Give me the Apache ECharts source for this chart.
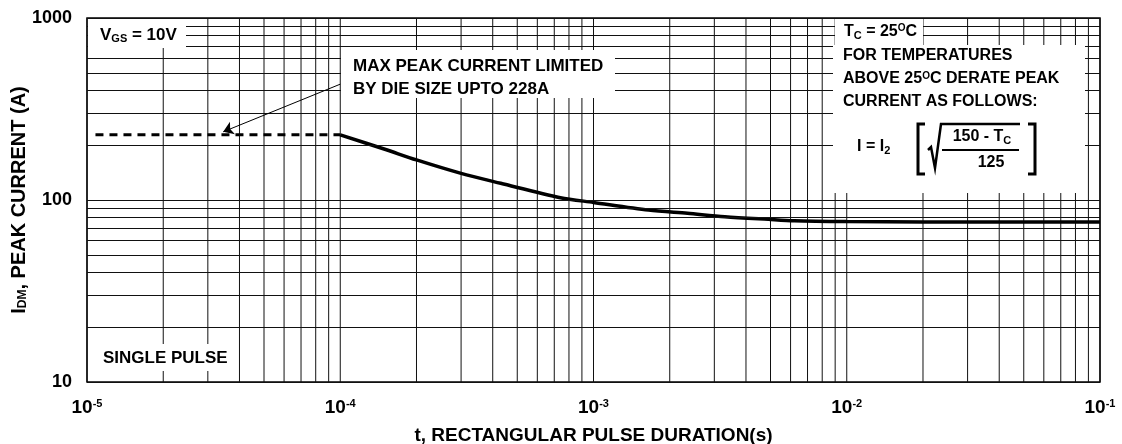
<!DOCTYPE html>
<html>
  <head>
    <meta http-equiv="Content-Type" content="text/html; charset=utf-8" />
    <title>Peak current</title>
    <script src="https://cdn.jsdelivr.net/npm/echarts@6/dist/echarts.min.js"></script>
    <style>
      body { margin: 0; background: #fff; }
      #chart { width: 1122px; height: 444px; }
    </style>
  </head>
  <body>
    <div id="chart"></div>
    <script>
      // pulse duration (s) and peak current (A)
      var pulseTime = [1e-4, 1.5e-4, 2e-4, 3e-4, 4.3e-4, 7.4e-4, 1e-3, 1.65e-3, 2.35e-3, 3.3e-3, 4.9e-3, 6.2e-3, 1e-2, 2e-2, 5e-2, 1e-1];
      var peakCurrent = [228, 190, 166, 140, 123.5, 103, 97, 88, 84.5, 81, 78.3, 76.9, 76.1, 75.7, 75.6, 75.6];
      // die size limit (dashed)
      var limitTime = [1.08e-5, 1e-4];
      var limitCurrent = [228, 228];
      // arrow of the annotation, from box to dashed line
      var arrowFrom = [1e-4, 433];
      var arrowTo = [3.45e-5, 237];

      var xDecades = [1e-5, 1e-4, 1e-3, 1e-2];
      var yDecades = [10, 100];
      var steps = [1, 2, 3, 4, 5, 6, 7, 8, 9];

      var FONT = '"Liberation Sans", Arial, sans-serif';

      var xGrid = [];
      xDecades.forEach(function (d) {
        steps.forEach(function (s) { xGrid.push(d * s); });
      });
      xGrid.push(1e-1);
      var yGrid = [];
      yDecades.forEach(function (d) {
        steps.forEach(function (s) { yGrid.push({ yAxis: d * s }); });
      });
      yGrid.push({ yAxis: 1000 });

      function zip(a, b) {
        return a.map(function (v, i) { return [v, b[i]]; });
      }

      var chart = echarts.init(document.getElementById('chart'));

      var txt = function (x, y, text, size, extra) {
        var el = {
          type: 'text', x: x, y: y, z: 102,
          style: {
            text: text,
            font: 'bold ' + size + 'px ' + FONT,
            fill: '#000',
            verticalAlign: 'middle',
            align: 'left'
          }
        };
        if (extra) {
          for (var k in extra) el.style[k] = extra[k];
        }
        return el;
      };
      var box = function (x, y, w, h) {
        return { type: 'rect', z: 100, shape: { x: x, y: y, width: w, height: h }, style: { fill: '#fff' } };
      };
      var subRich = {
        a: { fontSize: 16, fontWeight: 'bold', fontFamily: FONT },
        b: { fontSize: 11, fontWeight: 'bold', fontFamily: FONT, verticalAlign: 'bottom', padding: [7, 0, 0, 0] },
        c: { fontSize: 10, fontWeight: 'bold', fontFamily: FONT, verticalAlign: 'top', padding: [0, 0, 6, 0] }
      };

      // vertical grid lines, one little series each
      var vSeries = xGrid.map(function (v) {
        return {
          type: 'line', z: 1, silent: true, showSymbol: false,
          data: [[v, 10], [v, 1000]],
          lineStyle: { color: '#111', width: 1 }
        };
      });

      var option = {
        animation: false,
        backgroundColor: '#fff',
        grid: {
          left: 87, right: 22, top: 18, bottom: 62,
          outerBoundsMode: 'none',
          containLabel: false,
          show: true, borderColor: '#000', borderWidth: 1.5, backgroundColor: '#fff'
        },
        xAxis: {
          type: 'log', logBase: 10, min: 1e-5, max: 1e-1,
          name: 't, RECTANGULAR PULSE DURATION(s)',
          nameLocation: 'middle', nameGap: 44, nameMoveOverlap: false,
          nameTextStyle: { fontSize: 19, fontWeight: 'bold', fontFamily: FONT, color: '#000' },
          axisLine: { show: false },
          axisTick: { show: false },
          splitLine: { show: false },
          axisLabel: {
            margin: 16,
            formatter: function (v) {
              return '{b|10}{s|' + Math.round(Math.log10(v)) + '}';
            },
            rich: {
              b: { fontSize: 19, fontWeight: 'bold', fontFamily: FONT, color: '#000' },
              s: { fontSize: 11, fontWeight: 'bold', fontFamily: FONT, color: '#000', verticalAlign: 'top', padding: [0, 0, 9, 0] }
            }
          }
        },
        yAxis: {
          type: 'log', logBase: 10, min: 10, max: 1000,
          name: '{n|I}{d|DM}{n|, PEAK CURRENT (A)}',
          nameLocation: 'middle', nameGap: 58, nameMoveOverlap: false,
          nameTextStyle: {
            rich: {
              n: { fontSize: 20, fontWeight: 'bold', fontFamily: FONT, color: '#000' },
              d: { fontSize: 12, fontWeight: 'bold', fontFamily: FONT, color: '#000', verticalAlign: 'bottom', padding: [7, 0, 0, 0] }
            }
          },
          axisLine: { show: false },
          axisTick: { show: false },
          splitLine: { show: false },
          axisLabel: {
            margin: 15,
            formatter: function (v) { return String(Math.round(v)); },
            fontSize: 18, fontWeight: 'bold', fontFamily: FONT, color: '#000'
          }
        },
        series: vSeries.concat([
          {
            type: 'line', data: [], z: 1, silent: true,
            markLine: {
              silent: true, symbol: 'none', animation: false,
              label: { show: false },
              emphasis: { disabled: true },
              lineStyle: { color: '#111', width: 1, type: 'solid' },
              data: yGrid
            }
          },
          {
            type: 'line', data: zip(limitTime, limitCurrent), z: 3,
            showSymbol: false, silent: true,
            lineStyle: { color: '#000', width: 3, type: [8, 6] },
            markLine: {
              silent: true, symbol: ['none', 'arrow'], symbolSize: 10, animation: false,
              label: { show: false },
              emphasis: { disabled: true },
              itemStyle: { color: '#000' },
              lineStyle: { color: '#000', width: 1, type: 'solid' },
              data: [[{ coord: arrowFrom }, { coord: arrowTo }]]
            }
          },
          {
            type: 'line', data: zip(pulseTime, peakCurrent), z: 3,
            showSymbol: false, silent: true, smooth: 0.3,
            lineStyle: { color: '#000', width: 3.5 }
          }
        ]),
        graphic: [
          box(88, 19, 98, 29),
          txt(100, 35, '{a|V}{b|GS}{a| = 10V}', 17, { rich: {
            a: { fontSize: 17, fontWeight: 'bold', fontFamily: FONT },
            b: { fontSize: 11, fontWeight: 'bold', fontFamily: FONT, verticalAlign: 'bottom', padding: [7, 0, 0, 0] }
          } }),

          box(341, 50, 274, 48),
          txt(353, 66, 'MAX PEAK CURRENT LIMITED', 17),
          txt(353, 89, 'BY DIE SIZE UPTO 228A', 17),

          box(98, 344, 130, 27),
          txt(103, 358, 'SINGLE PULSE', 17),

          box(835, 19, 88, 27),
          txt(844, 32, '{a|T}{b|C}{a| = 25}{c|O}{a|C}', 16, { rich: subRich }),
          box(833, 45, 252, 148),
          txt(843, 56, 'FOR TEMPERATURES', 16),
          txt(843, 79, '{a|ABOVE 25}{c|O}{a|C DERATE PEAK}', 16, { rich: subRich }),
          txt(843, 102, 'CURRENT AS FOLLOWS:', 16),
          txt(857, 147, '{a|I = I}{b|2}', 16, { rich: subRich }),
          txt(982, 137, '{a|150 - T}{b|C}', 16, { rich: subRich, align: 'center' }),
          txt(991, 163, '125', 16, { align: 'center' }),
          {
            type: 'polyline', z: 102,
            shape: { points: [[925, 124], [918, 124], [918, 174], [925, 174]] },
            style: { stroke: '#000', lineWidth: 3, fill: null }
          },
          {
            type: 'polyline', z: 102,
            shape: { points: [[1028, 124], [1035, 124], [1035, 174], [1028, 174]] },
            style: { stroke: '#000', lineWidth: 3, fill: null }
          },
          {
            type: 'polyline', z: 102,
            shape: { points: [[928, 150], [931, 147], [935, 168], [941, 124], [1020, 124]] },
            style: { stroke: '#000', lineWidth: 2.5, fill: null }
          },
          {
            type: 'line', z: 102,
            shape: { x1: 942, y1: 150, x2: 1019, y2: 150 },
            style: { stroke: '#000', lineWidth: 2 }
          }
        ]
      };

      chart.setOption(option);
    </script>
  </body>
</html>
